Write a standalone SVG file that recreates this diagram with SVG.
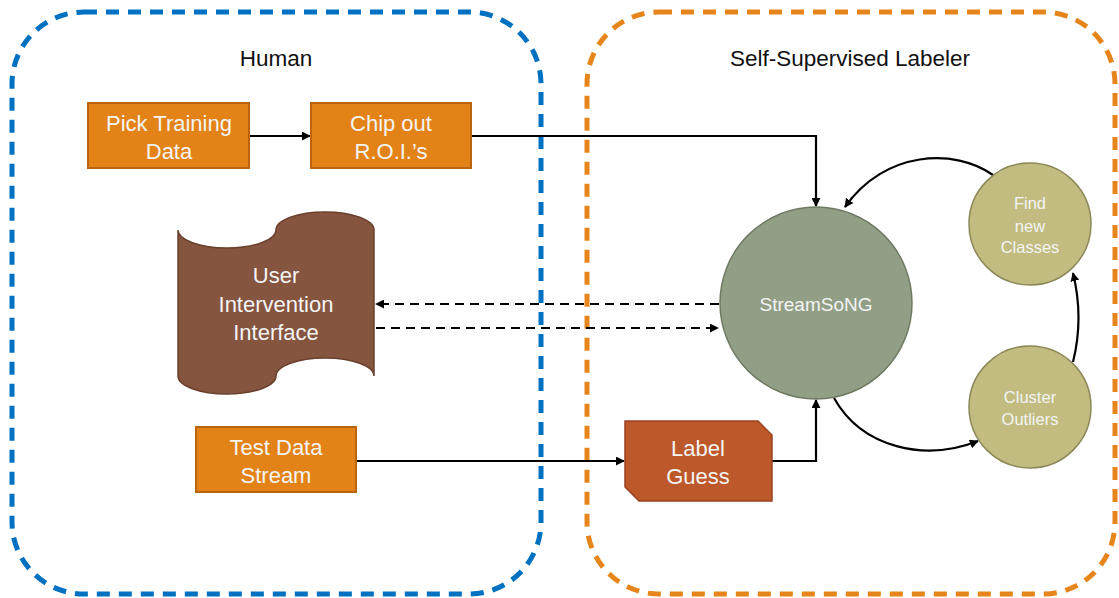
<svg xmlns="http://www.w3.org/2000/svg" width="1119" height="598" viewBox="0 0 1119 598">
<defs>
<marker id="ah" viewBox="0 0 10 10" refX="9" refY="5" markerWidth="9" markerHeight="9" markerUnits="userSpaceOnUse" orient="auto">
<path d="M0,0 L10,5 L0,10 Z" fill="#000"/>
</marker>
<style>
.lbl{font-family:"Liberation Sans",Arial,sans-serif;fill:#F4F4F4;text-anchor:middle}
.ttl{font-family:"Liberation Sans",Arial,sans-serif;fill:#111;text-anchor:middle;font-size:22.5px}
.obox{fill:#E38317;stroke:#B9640E;stroke-width:2}
.conn{fill:none;stroke:#000;stroke-width:2.2}
.dash{fill:none;stroke:#000;stroke-width:2.2;stroke-dasharray:9,6}
.small{fill:#C2BC80;stroke:#8C8858;stroke-width:1.5}
</style>
</defs>
<rect width="1119" height="598" fill="#fff"/>
<g id="human-group">
<rect x="12" y="12" width="529" height="582" rx="72" fill="none" stroke="#0070C0" stroke-width="5" stroke-dasharray="13,9"/>
<text class="ttl" x="276" y="66">Human</text>
</g>
<g id="labeler-group">
<rect x="587" y="12" width="528" height="582" rx="72" fill="none" stroke="#E6851B" stroke-width="5" stroke-dasharray="13,9"/>
<text class="ttl" x="850" y="66">Self-Supervised Labeler</text>
</g>
<g id="connectors">
<path class="conn" d="M249,136 L310,136" marker-end="url(#ah)"/>
<path class="conn" d="M471,136 L816,136 L816,206" marker-end="url(#ah)"/>
<path class="dash" d="M719,304 L376,304" marker-end="url(#ah)"/>
<path class="dash" d="M376,328 L718,328" marker-end="url(#ah)"/>
<path class="conn" d="M356,461 L624,461" marker-end="url(#ah)"/>
<path class="conn" d="M772,461 L816,461 L816,400" marker-end="url(#ah)"/>
<path class="conn" d="M993,175 C955,148 885,150 845,207" marker-end="url(#ah)"/>
<path class="conn" d="M1073,362 Q1084,318 1073,273" marker-end="url(#ah)"/>
<path class="conn" d="M834,398 C862,448 925,462 978,441" marker-end="url(#ah)"/>
</g>
<g id="pick-training-data">
<rect class="obox" x="88" y="103" width="161" height="65"/>
<text class="lbl" font-size="22" x="169" y="131">Pick Training</text>
<text class="lbl" font-size="22" x="169" y="159">Data</text>
</g>
<g id="chip-out-rois">
<rect class="obox" x="311" y="103" width="160" height="65"/>
<text class="lbl" font-size="22" x="391" y="131">Chip out</text>
<text class="lbl" font-size="22" x="391" y="159">R.O.I.’s</text>
</g>
<g id="user-intervention-interface">
<path d="M178,230 A49,18 0 0 0 276,230 A49,18 0 0 1 374,230 L374,376 A49,18 0 0 0 276,376 A49,18 0 0 1 178,376 Z" fill="#855540" stroke="#6A402D" stroke-width="1.5"/>
<text class="lbl" font-size="22" x="276" y="283">User</text>
<text class="lbl" font-size="22" x="276" y="312">Intervention</text>
<text class="lbl" font-size="22" x="276" y="340">Interface</text>
</g>
<g id="test-data-stream">
<rect class="obox" x="196" y="427" width="160" height="65"/>
<text class="lbl" font-size="22" x="276" y="455">Test Data</text>
<text class="lbl" font-size="22" x="276" y="483">Stream</text>
</g>
<g id="label-guess">
<polygon points="625,421 758,421 772,435 772,501 639,501 625,487" fill="#BD582B" stroke="#9B4220" stroke-width="1.5"/>
<text class="lbl" font-size="22" x="698" y="456">Label</text>
<text class="lbl" font-size="22" x="698" y="484">Guess</text>
</g>
<g id="streamsong">
<circle cx="816" cy="303" r="96" fill="#929F87" stroke="#6F7A63" stroke-width="1.5"/>
<text class="lbl" font-size="19" x="816" y="311">StreamSoNG</text>
</g>
<g id="find-new-classes">
<circle class="small" cx="1030" cy="224" r="61"/>
<text class="lbl" font-size="16.5" x="1030" y="209">Find</text>
<text class="lbl" font-size="16.5" x="1030" y="232">new</text>
<text class="lbl" font-size="16.5" x="1030" y="253">Classes</text>
</g>
<g id="cluster-outliers">
<circle class="small" cx="1030" cy="407" r="61"/>
<text class="lbl" font-size="16.5" x="1030" y="403">Cluster</text>
<text class="lbl" font-size="16.5" x="1030" y="425">Outliers</text>
</g>
</svg>
